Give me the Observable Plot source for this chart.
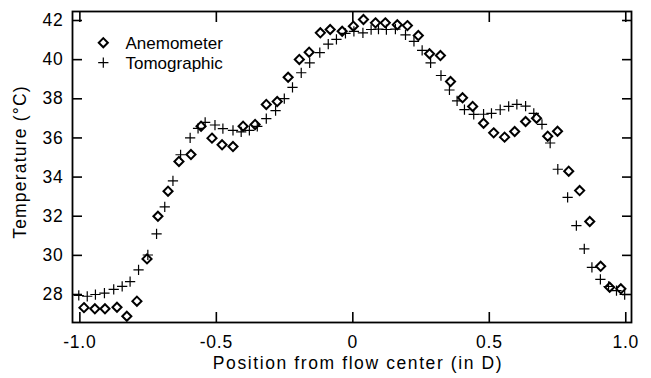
<!DOCTYPE html>
<html><head><meta charset="utf-8">
<script src="https://cdn.jsdelivr.net/npm/d3@7"></script>
<script src="https://cdn.jsdelivr.net/npm/@observablehq/plot@0.6"></script>
<style>
body{margin:0;background:#fff;}
#wrap{position:relative;width:651px;height:378px;font-family:"Liberation Sans",Arial,sans-serif;}
#legend{position:absolute;left:0;top:0;pointer-events:none;}
g[aria-label="x-axis label"] text{letter-spacing:1.6px}
g[aria-label="y-axis label"] text{letter-spacing:1.2px}
g[aria-label="x-axis tick label"] text, g[aria-label="y-axis tick label"] text{letter-spacing:0.8px}
</style></head><body><div id="wrap"></div>
<script>
// Anemometer series (diamonds)
const anemX = [-0.985,-0.945,-0.908,-0.864,-0.828,-0.791,-0.754,-0.714,-0.677,-0.637,-0.593,-0.556,-0.516,-0.479,-0.439,-0.402,-0.358,-0.317,-0.277,-0.237,-0.196,-0.160,-0.119,-0.083,-0.039,0.002,0.039,0.083,0.119,0.163,0.200,0.240,0.281,0.321,0.358,0.402,0.439,0.479,0.516,0.556,0.593,0.633,0.673,0.714,0.750,0.791,0.831,0.868,0.908,0.941,0.982];
const anemT = [27.33,27.27,27.27,27.35,26.89,27.66,29.82,32.00,33.28,34.80,35.15,36.60,35.99,35.65,35.56,36.60,36.69,37.71,37.86,39.10,40.01,40.38,41.37,41.54,41.45,41.71,42.05,41.88,41.88,41.78,41.74,41.23,40.30,40.21,38.88,38.05,37.61,36.75,36.26,36.04,36.33,36.84,37.01,36.09,36.34,34.30,33.31,31.73,29.44,28.37,28.29];
// Tomographic series (plus signs)
const tomoX = [-1.004,-0.973,-0.943,-0.910,-0.876,-0.845,-0.816,-0.785,-0.751,-0.719,-0.689,-0.659,-0.631,-0.596,-0.567,-0.541,-0.505,-0.476,-0.439,-0.409,-0.379,-0.350,-0.317,-0.283,-0.251,-0.221,-0.189,-0.158,-0.121,-0.090,-0.060,-0.027,0.004,0.037,0.067,0.094,0.123,0.156,0.193,0.224,0.254,0.285,0.323,0.354,0.382,0.409,0.443,0.479,0.508,0.540,0.571,0.601,0.633,0.663,0.693,0.723,0.751,0.787,0.819,0.848,0.876,0.907,0.937,0.966,0.996];
const tomoT = [27.95,27.91,28.00,28.07,28.26,28.42,28.66,29.26,30.02,31.10,32.48,33.81,35.14,36.00,36.49,36.80,36.66,36.48,36.39,36.31,36.39,36.59,36.99,37.40,38.01,38.58,39.33,39.84,40.36,40.79,41.04,41.34,41.44,41.37,41.54,41.56,41.54,41.56,41.27,40.93,40.47,39.83,39.19,38.45,37.89,37.45,37.20,37.21,37.25,37.44,37.61,37.71,37.63,37.25,36.69,35.74,34.40,32.96,31.52,30.33,29.39,28.77,28.41,28.20,28.00];

const xTicks = [-1, -0.5, 0, 0.5, 1];
const xTickLabels = ["-1.0", "-0.5", "0", "0.5", "1.0"];
const yTicks = [28, 30, 32, 34, 36, 38, 40, 42];
const seriesNames = ["Anemometer", "Tomographic"];
const xTitle = "Position from flow center (in D)";
const yTitle = "Temperature (°C)";

const anem = anemX.map((x, i) => ({x, t: anemT[i]}));
const tomo = tomoX.map((x, i) => ({x, t: tomoT[i]}));

const chart = Plot.plot({
  width: 651,
  height: 378,
  marginLeft: 72,
  marginRight: 20,
  marginTop: 11,
  marginBottom: 56,
  style: {fontFamily: '"Liberation Sans", Arial, sans-serif', fontSize: "17.5px", background: "#fff", color: "#000", overflow: "visible"},
  x: {domain: [-1.027, 1.021]},
  y: {domain: [26.57, 42.46]},
  marks: [
    Plot.axisX({anchor: "bottom", ticks: xTicks, tickFormat: d => xTickLabels[xTicks.indexOf(d)], tickSize: -10, tickPadding: 23, strokeWidth: 1.6, label: xTitle, labelAnchor: "center", labelOffset: 46, labelArrow: "none", fontSize: 17.5}),
    Plot.axisX({anchor: "top", ticks: xTicks, tickFormat: () => "", tickSize: -10, strokeWidth: 1.6, label: null}),
    Plot.axisY({anchor: "left", ticks: yTicks, tickSize: -10, tickPadding: 19, strokeWidth: 1.6, label: yTitle, labelAnchor: "center", labelOffset: 59, labelArrow: "none", fontSize: 17.5}),
    Plot.axisY({anchor: "right", ticks: yTicks, tickFormat: () => "", tickSize: -10, strokeWidth: 1.6, label: null}),
    Plot.frame({stroke: "#000", strokeWidth: 1.8}),
    Plot.dot(tomo, {x: "x", y: "t", symbol: "plus", r: 3.4, stroke: "#000", strokeWidth: 1.2}),
    Plot.dot(anem, {x: "x", y: "t", symbol: "diamond2", r: 4.1, stroke: "#000", strokeWidth: 2, fill: "none"})
  ]
});
const wrap = document.getElementById("wrap");
wrap.appendChild(chart);

// nudge axis titles to the reference placement
function nudge(sel, dx, dy) {
  chart.querySelectorAll(sel).forEach(t => {
    const tr = t.getAttribute("transform") || "";
    t.setAttribute("transform", `translate(${dx},${dy}) ${tr}`);
  });
}
nudge('g[aria-label="x-axis label"] text', 6, 0);
nudge('g[aria-label="y-axis label"] text', 0, -5);

// Legend overlay (inside plot, top-left)
const ns = "http://www.w3.org/2000/svg";
const leg = document.createElementNS(ns, "svg");
leg.setAttribute("id", "legend");
leg.setAttribute("width", 651);
leg.setAttribute("height", 378);
const syms = [d3.symbol(d3.symbolDiamond2, 4.1 * 4.1 * Math.PI)(), d3.symbol(d3.symbolPlus, 3.4 * 3.4 * Math.PI)()];
const sw = [2, 1.2];
seriesNames.forEach((name, i) => {
  const cy = 42.7 + i * 20;
  const p = document.createElementNS(ns, "path");
  p.setAttribute("d", syms[i]);
  p.setAttribute("transform", `translate(103.3,${cy})`);
  p.setAttribute("fill", "none");
  p.setAttribute("stroke", "#000");
  p.setAttribute("stroke-width", sw[i]);
  leg.appendChild(p);
  const t = document.createElementNS(ns, "text");
  t.setAttribute("x", 125.5);
  t.setAttribute("y", cy + 6.4);
  t.setAttribute("font-size", "17px");
  t.setAttribute("font-family", '"Liberation Sans", Arial, sans-serif');
  t.setAttribute("fill", "#000");
  t.textContent = name;
  leg.appendChild(t);
});
wrap.appendChild(leg);
</script></body></html>
